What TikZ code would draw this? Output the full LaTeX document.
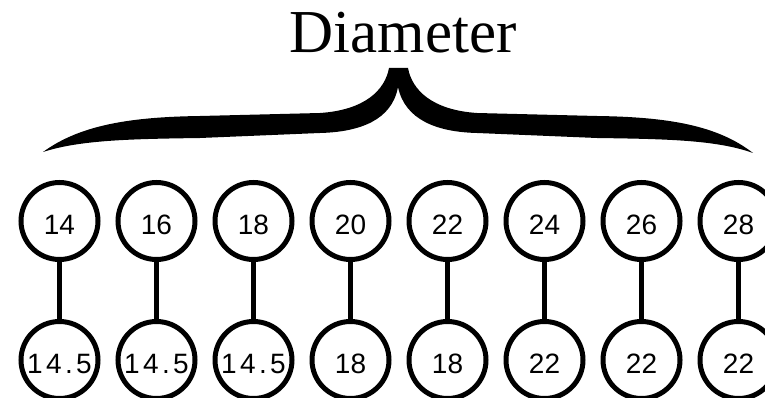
\documentclass[tikz,border=0pt]{standalone}
\usepackage{fontspec}
\setmainfont{Liberation Serif}
\newfontfamily\numfont{Liberation Sans}
\newcommand{\widetrk}{\addfontfeature{LetterSpace=12}}
\begin{document}
\begin{tikzpicture}[x=1pt,y=-1pt,
  ball/.style={circle,draw=black,line width=5pt,minimum size=77pt,inner sep=0pt,
    text height=26pt,text depth=0pt,
    font=\numfont\fontsize{28}{28}\selectfont},
  link/.style={line width=5pt,draw=black},
  title/.style={font=\fontsize{61}{61}\selectfont,inner sep=0pt,anchor=base}]
\useasboundingbox (0,0) rectangle (765,398);
\node[title] (title) at (403,53) {Diameter};
% brace
\fill[black] (398,87) .. controls (392,120) and (360,132) .. (320,133)
  -- (200,138) .. controls (130,139) and (80,140) .. (43,152)
  .. controls (80,125) and (130,117) .. (200,116)
  -- (320,113) .. controls (365,110) and (385,90) .. (389,68)
  -- (408,68) .. controls (412,90) and (432,110) .. (477,113)
  -- (597,116) .. controls (667,117) and (717,125) .. (753,153)
  .. controls (717,140) and (667,139) .. (597,138)
  -- (477,133) .. controls (437,132) and (405,120) .. (398,87) -- cycle;
% top row
\node[ball] (t1) at (59.5,221) {14};
\node[ball] (t2) at (156.5,221) {16};
\node[ball] (t3) at (253.5,221) {18};
\node[ball] (t4) at (350.5,221) {20};
\node[ball] (t5) at (447.5,221) {22};
\node[ball] (t6) at (544.5,221) {24};
\node[ball] (t7) at (641.5,221) {26};
\node[ball] (t8) at (738.5,221) {28};
% bottom row
\node[ball] (b1) at (59.5,360) {\widetrk 14.5};
\node[ball] (b2) at (156.5,360) {\widetrk 14.5};
\node[ball] (b3) at (253.5,360) {\widetrk 14.5};
\node[ball] (b4) at (350.5,360) {18};
\node[ball] (b5) at (447.5,360) {18};
\node[ball] (b6) at (544.5,360) {22};
\node[ball] (b7) at (641.5,360) {22};
\node[ball] (b8) at (738.5,360) {22};
\foreach \i in {1,...,8} \draw[link] (t\i) -- (b\i);
\end{tikzpicture}
\end{document}
